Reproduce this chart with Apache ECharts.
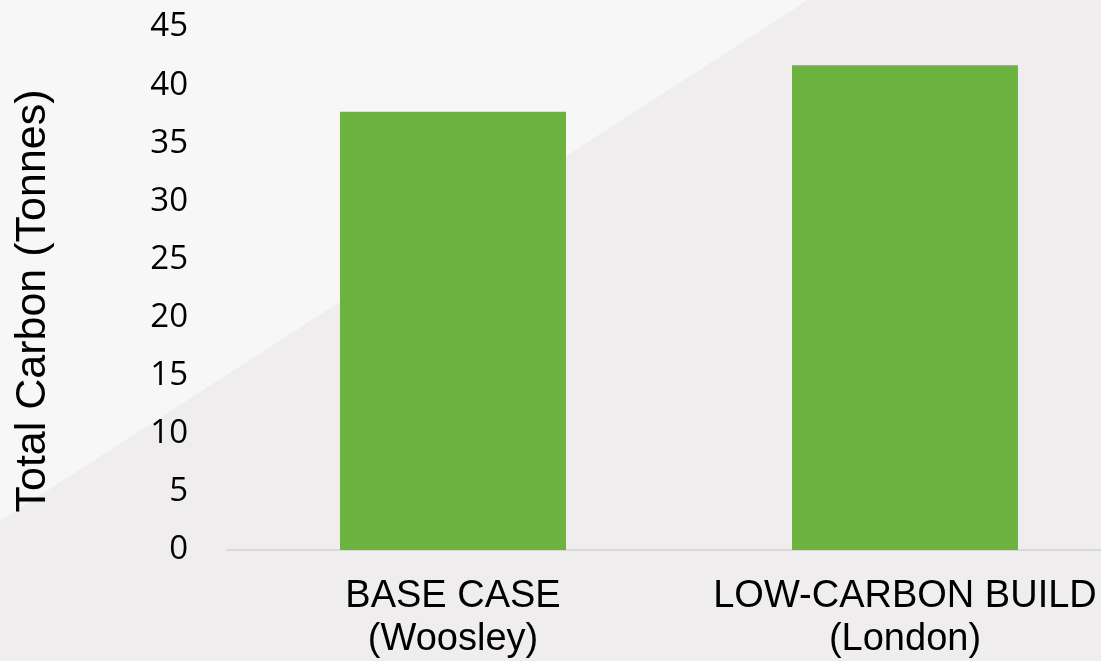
<!DOCTYPE html>
<html>
<head>
<meta charset="utf-8">
<script src="https://cdn.jsdelivr.net/npm/echarts@6/dist/echarts.min.js"></script>
<style>
  html, body { margin: 0; padding: 0; background: #efedee; }
  #chart { width: 1101px; height: 661px; }
</style>
</head>
<body>
<div id="chart"></div>
<script>
// Total carbon per build scenario (tonnes)
const categories = ['BASE CASE\n(Woosley)', 'LOW-CARBON BUILD\n(London)'];
const totalCarbon = [37.7, 41.7];
const yTicks = { min: 0, max: 45, interval: 5 };
const axisTitle = 'Total Carbon (Tonnes)';

const chart = echarts.init(document.getElementById('chart'), null, { renderer: 'canvas' });

chart.setOption({
  backgroundColor: '#efedee',
  animation: false,
  graphic: [
    {
      // pale diagonal panel in the upper-left of the slide
      type: 'polygon',
      z: -10,
      silent: true,
      shape: { points: [[0, 0], [808, 0], [0, 521]] },
      style: { fill: '#f8f7f8' }
    },
    {
      type: 'text',
      x: 33,
      y: 301,
      rotation: Math.PI / 2,
      style: {
        text: axisTitle,
        fill: '#000000',
        font: '43px "Liberation Sans", Arial, sans-serif',
        align: 'center',
        verticalAlign: 'middle'
      }
    }
  ],
  // the plot area runs past the right edge of the canvas
  grid: { left: 227, right: -30, top: 27, bottom: 111, outerBoundsMode: 'none', containLabel: false },
  xAxis: {
    type: 'category',
    data: categories,
    axisLine: { show: true, lineStyle: { color: '#d9d9d9', width: 2 } },
    axisTick: { show: false },
    axisLabel: {
      color: '#000000',
      fontFamily: '"Liberation Sans", Arial, sans-serif',
      fontSize: 38,
      lineHeight: 43,
      margin: 25,
      interval: 0
    }
  },
  yAxis: {
    type: 'value',
    min: yTicks.min,
    max: yTicks.max,
    interval: yTicks.interval,
    axisLine: { show: false },
    axisTick: { show: false },
    splitLine: { show: false },
    axisLabel: {
      color: '#000000',
      fontFamily: '"Open Sans", sans-serif',
      fontSize: 33,
      margin: 39
    }
  },
  series: [{
    type: 'bar',
    data: totalCarbon,
    barWidth: '50%',
    itemStyle: { color: '#6db33f' }
  }]
});
</script>
</body>
</html>
